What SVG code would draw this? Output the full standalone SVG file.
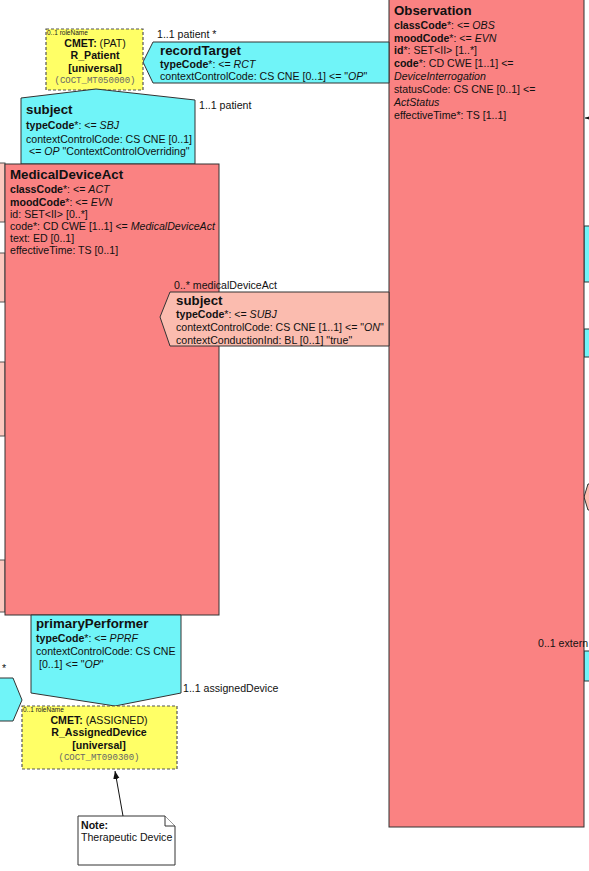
<svg xmlns="http://www.w3.org/2000/svg" width="589" height="871" viewBox="0 0 589 871">
<defs>
<style>
text{font-family:"Liberation Sans",Arial,sans-serif;font-size:10.6px;fill:#111}
.t{font-size:13.3px;font-weight:bold}
.b{font-weight:bold}
.i{font-style:italic}
.lbl{font-size:10.6px;fill:#111}
.small{font-size:6.5px;fill:#222}
.mono{font-family:"Liberation Mono",monospace;font-size:9px;fill:#666}
.act{fill:#fa8282;stroke:#333;stroke-width:1}
.assoc{fill:#70f4f8;stroke:#333;stroke-width:1}
.assocp{fill:#fbbcaf;stroke:#333;stroke-width:1}
.cmet{fill:#ffff66;stroke:#555;stroke-width:1.2;stroke-dasharray:3,2}
.strip{fill:#fcc8bf;stroke:#555;stroke-width:1}
.note{fill:#fff;stroke:#333;stroke-width:1}
.conn{stroke:#111;stroke-width:1;fill:none}
</style>
<marker id="arr" viewBox="0 0 10 10" refX="10" refY="5" markerWidth="8" markerHeight="8" orient="auto-start-reverse" markerUnits="userSpaceOnUse">
<path d="M0,1 L10,5 L0,9 z" fill="#111"/>
</marker>
</defs>
<rect width="589" height="871" fill="#fff"/>

<g id="edge-fragments">
<rect class="strip" x="-1" y="163" width="6" height="59"/>
<rect class="strip" x="-1" y="253" width="6" height="49"/>
<rect class="strip" x="-1" y="362" width="6" height="74"/>
<rect class="strip" x="-1" y="560" width="6" height="52"/>
<rect class="assoc" x="584" y="226" width="8" height="56"/>
<rect class="assoc" x="584" y="329" width="8" height="28"/>
<path class="assocp" d="M592,484 L588,484 L584,497 L588,510 L592,510 z"/>
<rect class="assoc" x="584" y="651" width="8" height="30"/>
<path class="assoc" d="M-1,678 L13,678 L22,700 L13,721 L-1,721 z"/>
</g>

<g id="Observation">
<rect class="act" x="389" y="-1" width="195" height="828"/>
<text class="t" x="394" y="15">Observation</text>
<text x="394" y="29"><tspan class="b">classCode</tspan>*: &lt;= <tspan class="i">OBS</tspan></text>
<text x="394" y="42"><tspan class="b">moodCode</tspan>*: &lt;= <tspan class="i">EVN</tspan></text>
<text x="394" y="54"><tspan class="b">id</tspan>*: SET&lt;II&gt; [1..*]</text>
<text x="394" y="67"><tspan class="b">code</tspan>*: CD CWE [1..1] &lt;=</text>
<text x="394" y="80" class="i">DeviceInterrogation</text>
<text x="394" y="93">statusCode: CS CNE [0..1] &lt;=</text>
<text x="394" y="106" class="i">ActStatus</text>
<text x="394" y="119">effectiveTime*: TS [1..1]</text>
</g>

<g id="recordTarget">
<path class="assoc" d="M143,62 L153,42 L389,42 L389,83 L153,83 z"/>
<text class="t" x="160" y="55">recordTarget</text>
<text x="160" y="68"><tspan class="b">typeCode</tspan>*: &lt;= <tspan class="i">RCT</tspan></text>
<text x="160" y="80">contextControlCode: CS CNE [0..1] &lt;= "<tspan class="i">OP</tspan>"</text>
</g>

<g id="R_Patient">
<rect class="cmet" x="46" y="29" width="97" height="61"/>
<text class="small" x="47" y="35">0..1 roleName</text>
<text x="95" y="46.5" text-anchor="middle"><tspan class="b">CMET:</tspan> (PAT)</text>
<text x="95" y="59" text-anchor="middle" class="b">R_Patient</text>
<text x="95" y="71.5" text-anchor="middle" class="b">[universal]</text>
<text x="95" y="83" text-anchor="middle" class="mono">(COCT_MT050000)</text>
</g>

<g id="subjectPatient">
<path class="assoc" d="M21,98 L96,89 L195,100 L195,164 L21,164 z"/>
<text class="t" x="26" y="114">subject</text>
<text x="26" y="129"><tspan class="b">typeCode</tspan>*: &lt;= <tspan class="i">SBJ</tspan></text>
<text x="26" y="143">contextControlCode: CS CNE [0..1]</text>
<text x="26" y="155">&#160;&lt;= <tspan class="i">OP</tspan> "ContextControlOverriding"</text>
</g>

<g id="MedicalDeviceAct">
<rect class="act" x="5" y="164" width="214" height="451"/>
<text class="t" x="10" y="179">MedicalDeviceAct</text>
<text x="10" y="193"><tspan class="b">classCode</tspan>*: &lt;= <tspan class="i">ACT</tspan></text>
<text x="10" y="206"><tspan class="b">moodCode</tspan>*: &lt;= <tspan class="i">EVN</tspan></text>
<text x="10" y="218">id: SET&lt;II&gt; [0..*]</text>
<text x="10" y="230">code*: CD CWE [1..1] &lt;= <tspan class="i">MedicalDeviceAct</tspan></text>
<text x="10" y="242">text: ED [0..1]</text>
<text x="10" y="254">effectiveTime: TS [0..1]</text>
</g>

<g id="subjectObservation">
<path class="assocp" d="M160,317 L170,292 L389,292 L389,346 L170,346 z"/>
<text class="t" x="176" y="305">subject</text>
<text x="176" y="318"><tspan class="b">typeCode</tspan>*: &lt;= <tspan class="i">SUBJ</tspan></text>
<text x="176" y="331">contextControlCode: CS CNE [1..1] &lt;= "<tspan class="i">ON</tspan>"</text>
<text x="176" y="344">contextConductionInd: BL [0..1] "true"</text>
</g>

<g id="primaryPerformer">
<path class="assoc" d="M31,615 L181,615 L181,693 L115,706 L31,693 z"/>
<text class="t" x="36" y="628">primaryPerformer</text>
<text x="36" y="642"><tspan class="b">typeCode</tspan>*: &lt;= <tspan class="i">PPRF</tspan></text>
<text x="36" y="655">contextControlCode: CS CNE</text>
<text x="36" y="668">&#160;[0..1] &lt;= "<tspan class="i">OP</tspan>"</text>
</g>

<g id="R_AssignedDevice">
<rect class="cmet" x="22" y="706" width="155" height="63"/>
<text class="small" x="23" y="712">0..1 roleName</text>
<text x="99" y="723.5" text-anchor="middle"><tspan class="b">CMET:</tspan> (ASSIGNED)</text>
<text x="99" y="736" text-anchor="middle" class="b">R_AssignedDevice</text>
<text x="99" y="748.5" text-anchor="middle" class="b">[universal]</text>
<text x="99" y="760" text-anchor="middle" class="mono">(COCT_MT090300)</text>
</g>

<g id="note">
<path class="note" d="M78,816 L165,816 L175,826 L175,865 L78,865 z"/>
<path class="note" d="M165,816 L165,826 L175,826"/>
<text x="81" y="829" class="b">Note:</text>
<text x="81" y="841">Therapeutic Device</text>
</g>

<g id="connectors">
<line class="conn" x1="123" y1="816" x2="115" y2="771" marker-end="url(#arr)"/>
<line class="conn" x1="592" y1="118" x2="585" y2="118" marker-end="url(#arr)"/>
<text class="lbl" x="157" y="38">1..1 patient  *</text>
<text class="lbl" x="199" y="109">1..1 patient</text>
<text class="lbl" x="174" y="289">0..* medicalDeviceAct</text>
<text class="lbl" x="183" y="692">1..1 assignedDevice</text>
<text class="lbl" x="538" y="647">0..1 extern</text>
<text class="lbl" x="2" y="672">*</text>
</g>
</svg>
